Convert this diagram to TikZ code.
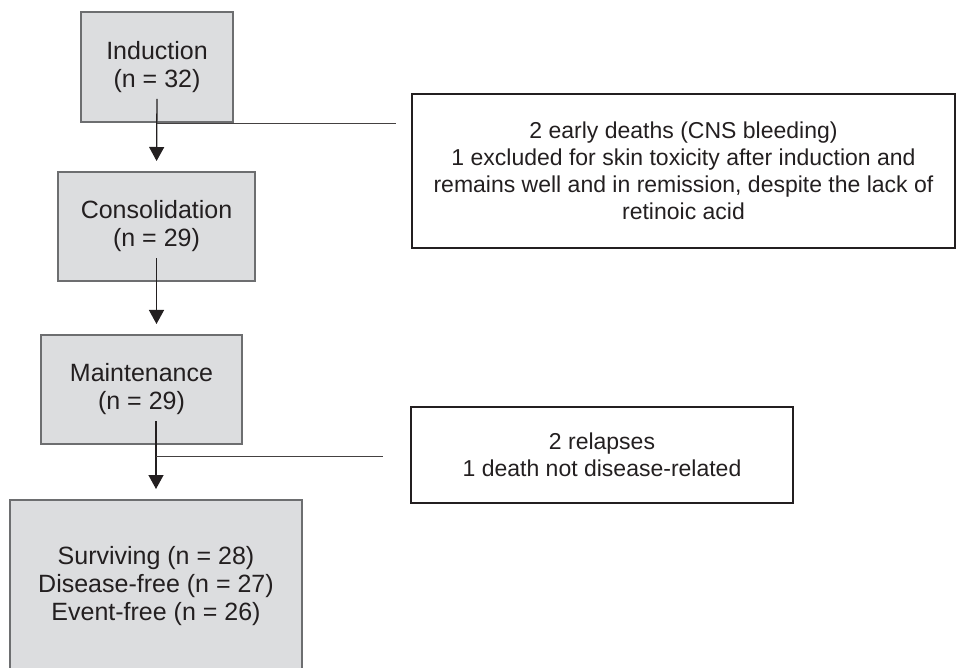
\documentclass[tikz,border=0pt]{standalone}
\usepackage{fontspec}
\setmainfont{Liberation Sans}
\usetikzlibrary{positioning,arrows.meta}

\definecolor{boxgrey}{HTML}{DCDDDF}
\definecolor{edgegrey}{HTML}{6D6E70}
\definecolor{ink}{HTML}{231F20}

\tikzset{
  stage/.style={draw=edgegrey, fill=boxgrey, line width=2pt, inner sep=0pt},
  stagetext/.style={align=center, font=\fontsize{25}{28}\selectfont, text=ink, inner sep=6pt},
  note/.style={draw=ink, line width=1.6pt, align=center, font=\fontsize{23}{27}\selectfont, text=ink},
  flow/.style={draw=ink, line width=1.3pt, -{Triangle[length=14pt,width=15pt]}, shorten >=10pt},
  branch/.style={draw=ink!85, line width=1pt}
}

\begin{document}
\begin{tikzpicture}[x=1pt,y=-1pt]
	\useasboundingbox (0,0) rectangle (956,668);
	\clip (0,0) rectangle (956,668);
	
	% treatment stages
	\node[stage, minimum width=152pt, minimum height=110pt] (ind) at (157,67) {};
	\node[stagetext] (indtxt) at (ind) {Induction\\(n = 32)};
	
	\node[stage, minimum width=197pt, minimum height=109pt] (cons) at (156.5,226.5) {};
	\node[stagetext] (constxt) at (cons) {Consolidation\\(n = 29)};
	
	\node[stage, minimum width=201pt, minimum height=109pt] (maint) at (141.5,389.5) {};
	\node[stagetext] (mainttxt) at (maint) {Maintenance\\(n = 29)};
	
	\node[stage, minimum width=292pt, minimum height=173pt] (fin) at (156,586.5) {};
	\node[stagetext] (fintxt) at (fin) {Surviving (n = 28)\\Disease-free (n = 27)\\Event-free (n = 26)};
	
	% side notes
	\node[note, minimum width=543pt, minimum height=154pt] (deaths) at (683.5,171)
	{2 early deaths (CNS bleeding)\\1 excluded for skin toxicity after induction and\\remains well and in remission, despite the lack of\\retinoic acid};
	\node[note, minimum width=382pt, minimum height=96pt] (relapse) at (602,455)
	{2 relapses\\1 death not disease-related};
	
	\draw[flow] (indtxt.south) -- (cons.north);
	\draw[flow] (constxt.south) -- (constxt.south |- maint.north);
	\draw[flow] (fin.north |- mainttxt.south) -- (fin.north);
	
	\coordinate (b1) at (157,124);
	\coordinate (b1end) at (396,124);
	\coordinate (b2) at (156,456);
	\coordinate (b2end) at (383,456);
	\draw[branch] (b1) -- (b1end);
	\draw[branch] (b2) -- (b2end);
	
\end{tikzpicture}
\end{document}
